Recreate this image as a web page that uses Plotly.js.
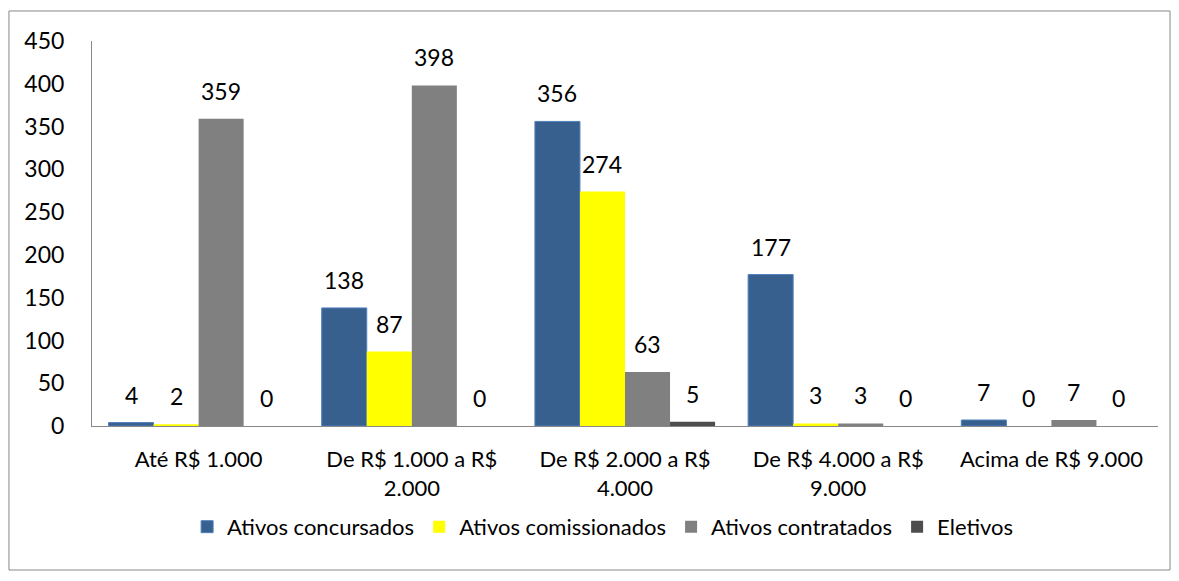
<!DOCTYPE html>
<html><head><meta charset="utf-8">
<script src="https://cdn.plot.ly/plotly-3.0.1.min.js"></script>
<style>html,body{margin:0;padding:0;background:#fff}#c{width:1179px;height:581px}</style>
</head><body><div id="c"></div>
<script>
const categories = ["Até R$ 1.000", "De R$ 1.000 a R$<br>2.000", "De R$ 2.000 a R$<br>4.000", "De R$ 4.000 a R$<br>9.000", "Acima de R$ 9.000"];
const concursados = [4, 138, 356, 177, 7];
const comissionados = [2, 87, 274, 3, 0];
const contratados = [359, 398, 63, 3, 7];
const eletivos = [0, 0, 5, 0, 0];
const seriesNames = ["Ativos concursados", "Ativos comissionados", "Ativos contratados", "Eletivos"];
const yTicks = [0, 50, 100, 150, 200, 250, 300, 350, 400, 450];

const font = "Lato, 'Open Sans', sans-serif";
const allSeries = [concursados, comissionados, contratados, eletivos];
const colors = ['#38608F', '#FFFF00', '#808080', '#4D4D4D'];

const data = allSeries.map((vals, i) => ({
  type: 'bar', name: seriesNames[i], x: categories, y: vals,
  marker: {color: colors[i], line: i === 0 ? {color: '#4F81BD', width: 1} : {width: 0}}
}));

// data labels as annotations above each bar
const plotW = 1179 - 92 - 21;
const bargap = 0.155;
const barPx = plotW / categories.length * (1 - bargap) / allSeries.length;
const annotations = [];
allSeries.forEach((vals, i) => {
  vals.forEach((v, j) => {
    annotations.push({x: categories[j], y: v, text: String(v), showarrow: false,
      xshift: (i - (allSeries.length - 1) / 2) * barPx, yanchor: 'bottom', yshift: 12,
      font: {family: font, size: 23, color: '#000'}});
  });
});

const layout = {
  width: 1179, height: 581,
  margin: {l: 92, r: 21, t: 41, b: 155},
  paper_bgcolor: '#fff', plot_bgcolor: '#fff',
  barmode: 'group', bargap: bargap, bargroupgap: 0,
  font: {family: font, size: 22, color: '#000'},
  xaxis: {showline: true, linecolor: '#888', linewidth: 1, ticks: '', tickfont: {size: 22},
          ticklabelstandoff: 14, showgrid: false, automargin: false},
  yaxis: {range: [0, 450], tickvals: yTicks, showline: true, linecolor: '#888', linewidth: 1,
          showgrid: false, zeroline: false, ticks: '', ticklabelstandoff: 22,
          tickfont: {size: 23}, automargin: false},
  legend: {orientation: 'h', x: 0.479, xanchor: 'center', y: -0.262, yanchor: 'middle',
           font: {size: 22}, itemwidth: 30, traceorder: 'normal'},
  showlegend: true,
  annotations: annotations,
  shapes: [{type: 'rect', xref: 'paper', yref: 'paper', x0: -0.0779, x1: 1.0113, y0: -0.374, y1: 1.078,
            line: {color: '#888', width: 1}, fillcolor: 'rgba(0,0,0,0)', layer: 'below'}]
};
Plotly.newPlot('c', data, layout, {displayModeBar: false, staticPlot: true});
</script></body></html>
